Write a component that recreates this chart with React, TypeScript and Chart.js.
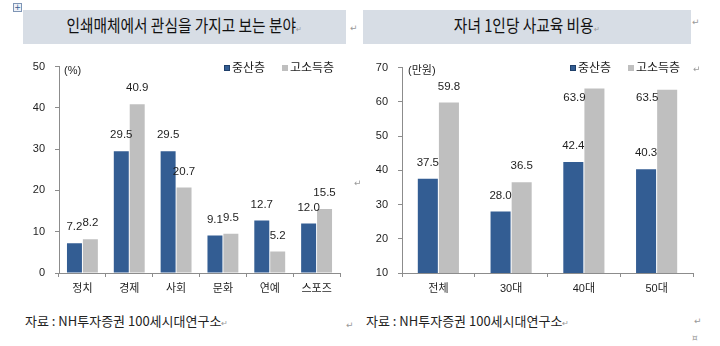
import React, { useEffect, useRef } from "react";
import { Chart, registerables } from "chart.js";
Chart.register(...registerables);

// ---- data ----
const seriesNames = ["중산층", "고소득층"];

const mediaCategories = ["정치", "경제", "사회", "문화", "연예", "스포즈"];
const mediaMiddle = [7.2, 29.5, 29.5, 9.1, 12.7, 12.0];
const mediaHigh = [8.2, 40.9, 20.7, 9.5, 5.2, 15.5];

const eduCategories = ["전체", "30대", "40대", "50대"];
const eduMiddle = [37.5, 28.0, 42.4, 40.3];
const eduHigh = [59.8, 36.5, 63.9, 63.5];

const titleLeft = "인쇄매체에서 관심을 가지고 보는 분야";
const titleRight = "자녀 1인당 사교육 비용";
const sourceText = "자료 : NH투자증권 100세시대연구소";

// ---- style ----
const BLUE = "#335d93";
const GRAY = "#bfbfbf";
const AXIS = "#8c8c8c";
const TXT = "#1e1e1e";
const FONT = "'Liberation Sans', 'Noto Sans CJK KR', sans-serif";

const overlay = {
  id: "overlay",
  afterDatasetsDraw(chart: any, _args: any, opts: any) {
    const ctx = chart.ctx;
    ctx.save();
    ctx.font = `11.5px ${FONT}`;
    ctx.fillStyle = TXT;
    ctx.textAlign = "center";
    ctx.textBaseline = "middle";
    chart.data.datasets.forEach((ds: any, di: number) => {
      const meta = chart.getDatasetMeta(di);
      meta.data.forEach((el: any, i: number) => {
        const sh = (opts.shifts && opts.shifts[di] && opts.shifts[di][i]) || [0, 0];
        ctx.fillText(Number(ds.data[i]).toFixed(1), el.x + sh[0], el.y - 16 + sh[1]);
      });
    });
    // unit
    ctx.textAlign = "left";
    ctx.font = `11px ${FONT}`;
    ctx.fillText(opts.unit, opts.unitX, opts.unitY);
    // legend
    ctx.font = `12px ${FONT}`;
    const colors = [BLUE, GRAY];
    opts.legendX.forEach((x: number, i: number) => {
      ctx.fillStyle = colors[i];
      ctx.fillRect(x, opts.legendY - 3, 6, 6);
      if (i === 0) {
        ctx.strokeStyle = "#1f3f6a";
        ctx.lineWidth = 1;
        ctx.strokeRect(x + 0.5, opts.legendY - 2.5, 5, 5);
      }
      ctx.fillStyle = TXT;
      ctx.fillText(seriesNames[i], x + 8, opts.legendY + 0.5);
    });
    ctx.restore();
  },
};

type BarProps = {
  cats: string[];
  a: number[];
  b: number[];
  min: number;
  max: number;
  left: number;
  top: number;
  width: number;
  height: number;
  pad: any;
  yWidth: number;
  xHeight: number;
  catPct: number;
  barPct: number;
  ov: any;
};

function BarChart(p: BarProps) {
  const ref = useRef<HTMLCanvasElement>(null);
  useEffect(() => {
    const tickFont = { family: FONT, size: 11 };
    const chart = new Chart(ref.current as HTMLCanvasElement, {
      type: "bar",
      data: {
        labels: p.cats,
        datasets: [
          { label: seriesNames[0], data: p.a, backgroundColor: BLUE, categoryPercentage: p.catPct, barPercentage: p.barPct },
          { label: seriesNames[1], data: p.b, backgroundColor: GRAY, categoryPercentage: p.catPct, barPercentage: p.barPct },
        ],
      },
      options: {
        responsive: false,
        animation: false,
        devicePixelRatio: 1,
        layout: { padding: p.pad },
        plugins: {
          legend: { display: false },
          tooltip: { enabled: false },
          overlay: p.ov,
        } as any,
        scales: {
          x: {
            grid: { drawOnChartArea: false, drawTicks: true, tickLength: 4, color: AXIS, offset: true },
            border: { color: AXIS },
            ticks: { font: tickFont, color: TXT, padding: 5 },
            afterFit: (s: any) => { s.height = p.xHeight; },
          },
          y: {
            min: p.min,
            max: p.max,
            ticks: { stepSize: 10, font: tickFont, color: TXT, padding: 10 },
            grid: { drawOnChartArea: false, drawTicks: true, tickLength: 4, color: AXIS },
            border: { color: AXIS },
            afterFit: (s: any) => { s.width = p.yWidth; },
          },
        },
      } as any,
      plugins: [overlay as any],
    });
    return () => chart.destroy();
  }, []);
  return (
    <canvas
      ref={ref}
      width={p.width}
      height={p.height}
      style={{ position: "absolute", left: p.left, top: p.top, width: p.width, height: p.height }}
    />
  );
}

const mark: React.CSSProperties = { position: "absolute", fontSize: 9, color: "#9a9a9a", fontFamily: "'DejaVu Sans', sans-serif", lineHeight: "10px" };

function TitleBox({ left, width, text }: { left: number; width: number; text: string }) {
  return (
    <div
      style={{
        position: "absolute",
        left,
        top: 10,
        width,
        height: 34,
        background: "#d7dde5",
        display: "flex",
        alignItems: "center",
        justifyContent: "center",
      }}
    >
      <span
        style={{
          fontFamily: "'Noto Sans CJK KR', sans-serif",
          fontSize: 17.5,
          color: "#111",
          display: "inline-block",
          transform: "scaleX(0.84)",
          whiteSpace: "pre",
          letterSpacing: 0,
          lineHeight: "20px",
        }}
      >
        {text}
        <span style={{ fontSize: 8, color: "#999" }}>↵</span>
      </span>
    </div>
  );
}

export default function App() {
  const srcStyle: React.CSSProperties = {
    position: "absolute",
    top: 313,
    fontFamily: "'Noto Sans CJK KR', sans-serif",
    fontSize: 13,
    color: "#222",
    whiteSpace: "pre",
    lineHeight: "16px",
  };
  return (
    <div style={{ position: "fixed", left: 0, top: 0, width: 720, height: 346, overflow: "hidden", background: "#fff" }}>
      <div style={{ position: "absolute", left: 13, top: 3, width: 7, height: 7, border: "1px solid #7f95b5", background: "#eef2f8", fontSize: 8, lineHeight: "7px", textAlign: "center", color: "#365f91", fontFamily: "'DejaVu Sans', sans-serif" }}>+</div>
      <TitleBox left={23} width={323} text={titleLeft} />
      <TitleBox left={363} width={328} text={titleRight} />
      <div style={{ ...mark, left: 350, top: 23 }}>↵</div>
      <div style={{ ...mark, left: 692, top: 17 }}>↵</div>

      <BarChart
        cats={mediaCategories}
        a={mediaMiddle}
        b={mediaHigh}
        min={0}
        max={50}
        left={0}
        top={50}
        width={350}
        height={250}
        pad={{ top: 4, right: 10, left: 0, bottom: 0 }}
        yWidth={59}
        xHeight={27}
        catPct={0.68}
        barPct={0.94}
        ov={{ unit: "(%)", unitX: 64, unitY: 21, legendX: [224, 282], legendY: 18, shifts: null }}
      />
      <BarChart
        cats={eduCategories}
        a={eduMiddle}
        b={eduHigh}
        min={10}
        max={70}
        left={360}
        top={51}
        width={350}
        height={249}
        pad={{ top: 5, right: 17, left: 0, bottom: 0 }}
        yWidth={42}
        xHeight={27}
        catPct={0.58}
        barPct={0.95}
        ov={{
          unit: "(만원)",
          unitX: 48,
          unitY: 20,
          legendX: [210, 268],
          legendY: 17,
          shifts: [
            [[0, 0], [0, 0], [0, 0], [0, 0]],
            [[0, 0], [0, 0], [-20, 25], [-20, 24]],
          ],
        }}
      />
      <div style={{ ...mark, left: 354, top: 178 }}>↵</div>
      <div style={{ ...mark, left: 693, top: 64 }}>↵</div>

      <div style={{ ...srcStyle, left: 25 }}>
        {sourceText}
        <span style={{ fontSize: 8, color: "#999" }}>↵</span>
      </div>
      <div style={{ ...mark, left: 346, top: 320 }}>↵</div>
      <div style={{ ...srcStyle, left: 366 }}>
        {sourceText}
        <span style={{ fontSize: 8, color: "#999" }}>↵</span>
      </div>
      <div style={{ ...mark, left: 694, top: 316 }}>↵</div>
      <div style={{ ...mark, left: 692, top: 333 }}>¤</div>
    </div>
  );
}
